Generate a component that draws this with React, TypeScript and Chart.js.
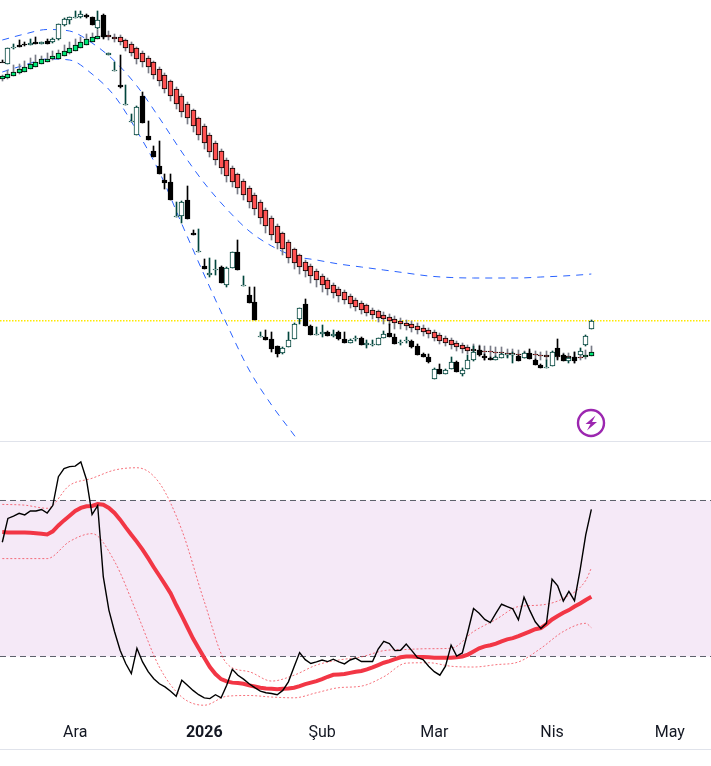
import React, { useEffect, useRef } from 'react'
import { Chart } from 'chart.js/auto'

const upperOpen = [
  361.5, 362.5, 364.5, 366.5, 368.5, 371.5, 373.5, 376.5, 378.5, 380.5,
  381.5, 384.5, 386.5, 389.5, 392.5, 395.5, 398.5, 400.5, 405, 405,
  403.5, 402.5, 399.5, 396.5, 391.5, 387.5, 382.5, 377.5, 371.5, 365.5,
  358.5, 351.5, 344.5, 336.5, 329.5, 321.5, 314.5, 305.5, 297.5, 289.5,
  280.5, 272.5, 265.5, 259.5, 252.5, 245.5, 238.5, 230.5, 222.5, 214.5,
  206.5, 198.5, 190.5, 184.5, 178.5, 174.5, 169.5, 164.5, 160.5, 155.5,
  151.5, 148.5, 144.5, 140.5, 137.5, 134.5, 130.5, 128.5, 125.5, 123.5,
  121.5, 119.5, 117.5, 116.5, 114.5, 112.5, 110.5, 108.5, 105.5, 102.5,
  100.5, 97.5, 95.5, 93.5, 91.5, 90.5, 89.5, 89.5, 88.5, 88.5,
  87.5, 87.5, 86.5, 86.5, 86.5, 86.5, 85.5, 85.5, 85.5, 85,
  84.5, 84, 83.5, 83.5, 83.5, 84.5,
]
const upperHigh = [
  365, 369.5, 375, 376.5, 379, 382.5, 385, 384, 387.5, 388.5,
  390.5, 395, 397.5, 401, 403.5, 406.5, 407.5, 410, 410, 408.5,
  406, 405, 401.5, 398.5, 393, 389, 384, 379, 373, 367,
  360, 353, 346, 338, 331, 323, 316, 307, 299, 291,
  282, 274, 267, 261, 254, 247, 240, 232, 224, 216,
  208, 200, 192, 186, 180, 176, 171, 166, 162, 157,
  153, 150, 146, 142, 139, 136, 132, 130, 128, 126,
  124, 122, 120, 119, 117, 115, 112, 110, 107, 104,
  102, 99, 97, 95, 96, 95, 94, 94, 93, 93,
  91, 91, 90, 89.5, 89.5, 89.5, 88.5, 89, 88, 87.5,
  87, 87.5, 88, 86.5, 90.5, 94,
]
const upperLow = [
  359, 361.5, 364, 366, 368, 371, 373.5, 376, 378, 380,
  381.5, 384, 386, 389, 392, 395, 398, 400.5, 402, 400,
  397.5, 394.5, 388.5, 383.5, 376.5, 372.5, 367.5, 360.5, 354.5, 346.5,
  339, 331.5, 323.5, 316.5, 308.5, 300, 291.5, 282.5, 275, 266.5,
  258.5, 253.5, 246.5, 240, 232.5, 225, 216.5, 207.5, 200, 191.5,
  185, 177.5, 171.5, 166.5, 162.5, 157.5, 153.5, 148.5, 145, 142.5,
  138.5, 136.5, 131.5, 129, 126.5, 124, 121.5, 118.5, 116.5, 115,
  111.5, 111.5, 110, 108.5, 106.5, 104, 102.5, 99, 96.5, 94,
  91.5, 89.5, 87.5, 86, 85, 84.5, 80, 82, 83, 84.5,
  83.5, 84, 83, 82, 82, 80, 80.5, 80, 81, 81,
  81, 80, 77.5, 80, 81.5, 84,
]
const upperClose = [
  363.5, 366, 368.5, 371.5, 373.5, 376.5, 378.5, 380.5, 381.5, 383.5,
  386.5, 389.5, 392.5, 395.5, 398.5, 401.5, 403.5, 404.5, 403, 403.5,
  400.5, 397.5, 392.5, 387.5, 381.5, 377.5, 372.5, 365.5, 359.5, 351.5,
  344.5, 336.5, 328.5, 321.5, 313.5, 305.5, 296.5, 288.5, 280.5, 272.5,
  264.5, 258.5, 252.5, 245.5, 237.5, 231.5, 222.5, 214.5, 205.5, 197.5,
  190.5, 182.5, 177.5, 173.5, 169.5, 164.5, 159.5, 155.5, 151.5, 147.5,
  144.5, 140.5, 136.5, 133.5, 130.5, 127.5, 125.5, 122.5, 121.5, 119.5,
  117.5, 116.5, 114.5, 112.5, 110.5, 108.5, 106.5, 102.5, 99.5, 97.5,
  95.5, 93.5, 91.5, 89.5, 89.5, 89, 88.5, 88.5, 87.5, 87.5,
  86, 86, 85, 85, 85, 85, 84, 83.5, 84, 83.5,
  83.5, 82.5, 82, 82, 85.5, 88.5,
]

const lowerOpen = [
  378.5, 376.5, 391.5, 395, 396, 395.5, 398, 396.5, 399, 397.5,
  401, 414.5, 420.5, 422, 422.5, 425, 423, 411.5, 425, 385,
  369, 355, 335, 318, 305.5, 344.5, 304, 289, 274, 260,
  258, 223, 224.5, 240, 206.5, 188, 174, 165.5, 170, 173.5,
  155.5, 172.5, 188.5, 154, 145, 138.5, 103, 103.5, 101.5, 94,
  87, 93.5, 101.5, 121.5, 136.5, 114.5, 105, 106.5, 108.5, 104.5,
  108.5, 101.5, 97.5, 101, 102.5, 95.5, 95, 95.5, 102.5, 107.5,
  103.5, 97, 99, 99.5, 94.5, 86.5, 83.5, 61.5, 71.5, 66.5,
  71.5, 78.5, 66.5, 71.5, 80.5, 90.5, 84.5, 82.5, 80.5, 82.5,
  85, 85, 84.5, 82.5, 87.5, 80.5, 75.5, 72, 74.5, 92.5,
  85.5, 79.5, 83.5, 85.5, 95.5, 111.5,
]
const lowerHigh = [
  380, 392, 396, 400, 398.5, 400.5, 403, 398.5, 400.5, 402,
  416, 422, 423, 428.5, 429, 425.5, 423, 429, 426, 387,
  378.5, 385, 355, 326, 334, 348.5, 319, 294, 299, 266,
  266, 238.5, 239, 254, 210.5, 211, 181, 182, 180, 174,
  173, 188, 200.5, 164, 153, 153, 108.5, 110, 108, 94.5,
  93, 108.5, 117, 132, 141.5, 115, 113.5, 115, 109, 110,
  109, 108.5, 101, 104, 103, 100, 100, 102.5, 109.5, 116.5,
  106, 100, 103.5, 100, 96.5, 87, 86, 72, 76.5, 71,
  83.5, 79, 72.5, 85.5, 94, 94.5, 86, 83, 84, 87,
  86.5, 88, 85, 88, 91.5, 81, 76, 80, 89, 101.5,
  86, 83, 88.5, 92, 105, 120,
]
const lowerLow = [
  377.5, 376, 391, 393, 394, 395, 396, 396, 396, 397,
  400, 414, 416, 422, 422, 422, 415, 411, 401.5, 385,
  369, 352, 335, 318, 305, 317, 300, 283, 266, 251,
  240, 223, 217, 221, 205, 188, 171, 162.5, 165, 157,
  153.5, 172, 170, 154, 137, 120, 103, 100, 88.5, 83.5,
  86.5, 93, 101, 116, 114, 105, 105, 103.5, 104, 103.5,
  100.5, 97, 97, 99.5, 95.5, 92.5, 94, 95, 102, 103,
  96, 95.5, 97.5, 92, 85, 83, 77.5, 61, 66, 66,
  71, 68, 64.5, 71, 79.5, 84.5, 80.5, 80, 80, 82,
  82, 77.5, 79, 82, 81, 75, 72, 72, 74, 80,
  79, 77.5, 77.5, 85, 94.5, 111,
]
const lowerClose = [
  377, 391.5, 393, 393.5, 394.5, 397, 396.5, 398, 396.5, 400.5,
  416, 421, 422.5, 423.5, 425.5, 422.5, 415, 420, 402.5, 386.5,
  370.5, 352.5, 336.5, 319.5, 333.5, 317.5, 300, 283.5, 266.5, 257,
  240, 224.5, 238.5, 221.5, 205.5, 189.5, 171.5, 167.5, 171.5, 157.5,
  172.5, 187.5, 170, 155.5, 137.5, 120, 104.5, 100.5, 91.5, 86.5,
  92.5, 100.5, 116.5, 131.5, 114.5, 105, 106.5, 108.5, 104, 106.5,
  101, 97, 100.5, 102.5, 95.5, 97, 96.5, 102, 106.5, 103.5,
  96.5, 98.5, 100.5, 93.5, 85.5, 83.5, 78, 71.5, 66.5, 70.5,
  78.5, 68.5, 69.5, 80.5, 88.5, 85.5, 82.5, 80.5, 83.5, 86.5,
  86.5, 86.5, 79.5, 87.5, 81.5, 75.5, 72.5, 73.5, 88.5, 84.5,
  79.5, 82.5, 79.5, 89.5, 104.5, 119.5,
]

// every fourth bar, plus the last one
const curveBars = [
  0, 4, 8, 12, 16, 20, 24, 28, 32, 36, 40, 44, 48, 52,
  56, 60, 64, 68, 72, 76, 80, 84, 88, 92, 96, 100, 104, 105,
]
const blueUpper = [
  400, 406, 410.5, 409, 397, 379, 354, 322, 288, 257, 231, 209, 194, 184,
  180, 176, 173, 170, 167, 164, 162.5, 162, 162, 162, 163, 164, 165.5, 166,
]
// runs off the bottom of the pane
const blueLower = [368, 375, 381, 380, 366, 344, 309, 268, 216, 165, 116, 70, 35, 5, -25]
const lastPrice = 119.25

const rsiValues = [
  59.3, 65.4, 66, 66.7, 66.3, 67.3, 67.3, 67.7, 66.8, 68.7,
  76.1, 78.2, 78.7, 78.8, 79.9, 75.4, 66.4, 68.7, 50.5, 41.9,
  36.4, 31.6, 28.2, 25.6, 32.1, 28.6, 26.1, 24.3, 23, 22.2,
  21.1, 19.8, 23.9, 22.6, 21.3, 20.2, 19.4, 19.2, 20.2, 19.4,
  22.6, 26.7, 25.2, 24.2, 23, 22, 21.1, 20.7, 20.5, 20.2,
  21.3, 23.5, 27.3, 31, 29.2, 28.2, 28.6, 29.1, 28.7, 29.3,
  28.6, 28.1, 29.1, 29.6, 28.7, 28.7, 28.7, 31.9, 33.9, 33.3,
  31.5, 31.6, 33.2, 31.5, 29.7, 29.2, 27.5, 26.1, 25.2, 27.5,
  32.9, 30.1, 30.9, 36.4, 42.3, 41.1, 39.5, 38.7, 41.1, 43.4,
  42.8, 42.2, 39.4, 45.2, 41.9, 38.9, 37.2, 38.5, 49.8, 48.1,
  44.2, 46.7, 44.3, 52.2, 61.2, 67.7,
]
const rsiAverage = [
  61.9, 61.8, 61.8, 61.8, 61.8, 61.7, 61.6, 61.5, 61.3, 62.1,
  63.6, 64.9, 66.1, 67.3, 68.1, 68.5, 68.6, 69.1, 68.9, 68.1,
  66.8, 65.1, 63.1, 61.2, 59.4, 57.4, 55.2, 52.9, 50.7, 48.5,
  46.2, 43.2, 40.4, 37.5, 34.6, 32.1, 29.7, 27.3, 25.5, 24.2,
  23.6, 23.3, 23.2, 23, 22.6, 22.3, 22, 21.8, 21.7, 21.6,
  21.7, 21.8, 22, 22.4, 22.9, 23.3, 23.7, 24.2, 24.8, 25.3,
  25.4, 25.5, 25.8, 26.1, 26.3, 26.7, 27.2, 27.8, 28.4, 28.8,
  29.3, 29.8, 30, 30, 29.9, 29.9, 29.8, 29.7, 29.7, 29.7,
  29.7, 29.8, 30, 30.5, 31.3, 32.1, 32.6, 32.9, 33.3, 33.9,
  34.4, 34.7, 35.2, 35.8, 36.4, 37, 37.3, 38.3, 39.5, 40.4,
  41.2, 41.9, 42.8, 43.6, 44.5, 45.3,
]
const rsiBandUpper = [
  69, 68.8, 68, 73.9, 75.7, 77.8, 78.4, 74.5, 62.4, 44.1, 28.2, 26.1, 23.7, 25.2,
  27.8, 29.1, 29.9, 31.5, 31.8, 32, 32.1, 36.4, 39.5, 42.8, 43.2, 44.9, 49.5, 52.7,
]
const rsiBandLower = [
  55.1, 55.1, 55.1, 59.5, 61.5, 54.4, 41.1, 27.3, 19.6, 17.5, 19.8, 20, 19.6, 19.4,
  20.7, 22, 22.4, 24.8, 28.3, 28.4, 27.5, 27.3, 27.9, 28.6, 32.1, 36.4, 38.5, 37.4,
]
const overbought = 70
const oversold = 30

const tickBars = [13, 36, 57, 77, 98, 119]
const tickLabels = ['Ara', '2026', 'Şub', 'Mar', 'Nis', 'May']

const xMin = -0.41
const xMax = 126.33
const WIDTH = 711

const GREEN = '#00e676'
const RED = '#ff5252'
const TEAL = '#00453c'

const bars = lowerOpen.map((_, i) => i)
const pts = (xs: number[], ys: number[]) => ys.map((y, i) => ({ x: xs[i], y }))
const edges = (y: number) => [{ x: xMin, y }, { x: xMax, y }]

// candles land on whole pixels, like the original
const snapBars = {
  id: 'snapBars',
  afterDatasetsUpdate(chart: any) {
    chart.getSortedVisibleDatasetMetas().forEach((meta: any) => {
      if (meta.type !== 'bar') return
      meta.data.forEach((el: any) => {
        el.x = Math.floor(el.x) + 0.5
        el.y = Math.round(el.y)
        el.base = Math.round(el.base)
        if (el.y === el.base) el.base += 1
      })
    })
  },
}

const body = (o: number[], c: number[], bg: (up: boolean) => string, border: (up: boolean) => string, order: number) => ({
  type: 'bar' as const,
  data: pts(bars, o.map((v, i) => [v, c[i]]) as any),
  backgroundColor: o.map((v, i) => bg(c[i] >= v)),
  borderColor: o.map((v, i) => border(c[i] >= v)),
  borderWidth: 1,
  borderSkipped: false,
  barThickness: 5,
  grouped: false,
  order,
})

const wick = (h: number[], l: number[], color: string | string[], order: number) => ({
  type: 'bar' as const,
  data: pts(bars, h.map((v, i) => [l[i], v]) as any),
  backgroundColor: color,
  borderWidth: 0,
  barThickness: 1,
  grouped: false,
  order,
})

const line = (data: any[], color: string, width: number, dash: number[], order: number, smooth = false) => ({
  type: 'line' as const,
  data,
  borderColor: color,
  borderWidth: width,
  borderDash: dash,
  pointRadius: 0,
  fill: false,
  cubicInterpolationMode: smooth ? ('monotone' as const) : ('default' as const),
  tension: 0,
  order,
})

const xAxis = (show: boolean) => ({
  type: 'linear' as const,
  min: xMin,
  max: xMax,
  offset: false,
  display: show,
  border: { display: false },
  grid: { display: false, drawTicks: false },
  afterBuildTicks: (scale: any) => {
    scale.ticks = tickBars.map((value) => ({ value }))
  },
  afterFit: (scale: any) => {
    scale.height = show ? 39 : 0
  },
  ticks: {
    autoSkip: false,
    maxRotation: 0,
    padding: 13,
    color: '#131722',
    font: (ctx: any) => ({
      family: 'Roboto',
      size: 16,
      weight: ctx.tick && ctx.tick.value === 36 ? 'bold' : 'normal',
    }),
    callback: (value: number) => tickLabels[tickBars.indexOf(value)],
  },
})

const baseOptions = {
  responsive: false,
  animation: false as const,
  layout: { padding: 0 },
  plugins: { legend: { display: false }, tooltip: { enabled: false } },
  events: [],
}

const PricePane: React.FC = () => {
  const ref = useRef<HTMLCanvasElement | null>(null)

  useEffect(() => {
    if (!ref.current) return
    const chart = new Chart(ref.current, {
      type: 'bar',
      plugins: [snapBars],
      data: {
        datasets: [
          body(lowerOpen, lowerClose, (up) => (up ? '#ffffff' : '#000000'), (up) => (up ? TEAL : '#000000'), 0),
          wick(lowerHigh, lowerLow, lowerOpen.map((v, i) => (lowerClose[i] >= v ? TEAL : '#000000')), 1),
          body(upperOpen, upperClose, (up) => (up ? GREEN : RED), () => '#000000', 2),
          wick(upperHigh, upperLow, '#787b86', 3),
          line(pts(curveBars, blueUpper), '#2962ff', 1, [7, 6], 4, true),
          line(pts(curveBars, blueLower), '#2962ff', 1, [7, 6], 4, true),
          line(edges(lastPrice), '#ffe800', 1.5, [1.5, 1.5], 5),
        ] as any,
      },
      options: {
        ...baseOptions,
        scales: {
          x: xAxis(false),
          y: { display: false, min: -1, max: 440 },
        },
      } as any,
    })
    return () => chart.destroy()
  }, [])

  return <canvas ref={ref} width={WIDTH} height={441} style={{ display: 'block' }} />
}

const RsiPane: React.FC = () => {
  const ref = useRef<HTMLCanvasElement | null>(null)

  useEffect(() => {
    if (!ref.current) return
    const chart = new Chart(ref.current, {
      type: 'line',
      data: {
        datasets: [
          line(pts(bars, rsiValues), '#000000', 1.4, [], 0),
          line(pts(bars, rsiAverage), '#f23645', 4, [], 1),
          line(pts(curveBars, rsiBandUpper), 'rgba(242, 54, 69, 0.7)', 1, [2, 2], 2, true),
          line(pts(curveBars, rsiBandLower), 'rgba(242, 54, 69, 0.7)', 1, [2, 2], 2, true),
          { ...line(edges(overbought), '#5d606b', 1, [6, 4], 3) },
          {
            ...line(edges(oversold), '#5d606b', 1, [6, 4], 3),
            fill: '-1',
            backgroundColor: 'rgba(156, 39, 176, 0.1)',
          },
        ] as any,
      },
      options: {
        ...baseOptions,
        scales: {
          x: xAxis(true),
          y: { display: false, min: 16.28, max: 85 },
        },
      } as any,
    })
    return () => chart.destroy()
  }, [])

  return <canvas ref={ref} width={WIDTH} height={307} style={{ display: 'block' }} />
}

export default function App() {
  return (
    <div style={{ position: 'absolute', left: 0, top: 0, width: WIDTH, background: '#fff' }}>
      <PricePane />
      <div style={{ height: 1, background: '#e0e3eb' }} />
      <RsiPane />
      <div style={{ height: 1, background: '#e0e3eb' }} />
      <svg width={30} height={30} viewBox="-15 -15 30 30" style={{ position: 'absolute', left: 576, top: 408 }}>
        <circle r={13} fill="#fff" stroke="#9c27b0" strokeWidth={2.4} />
        <path d="M4.5 -7.5 L-5.5 1 L-0.5 1 L-4 7.5 L6 -1 L1 -1 Z" fill="#9c27b0" />
      </svg>
    </div>
  )
}
